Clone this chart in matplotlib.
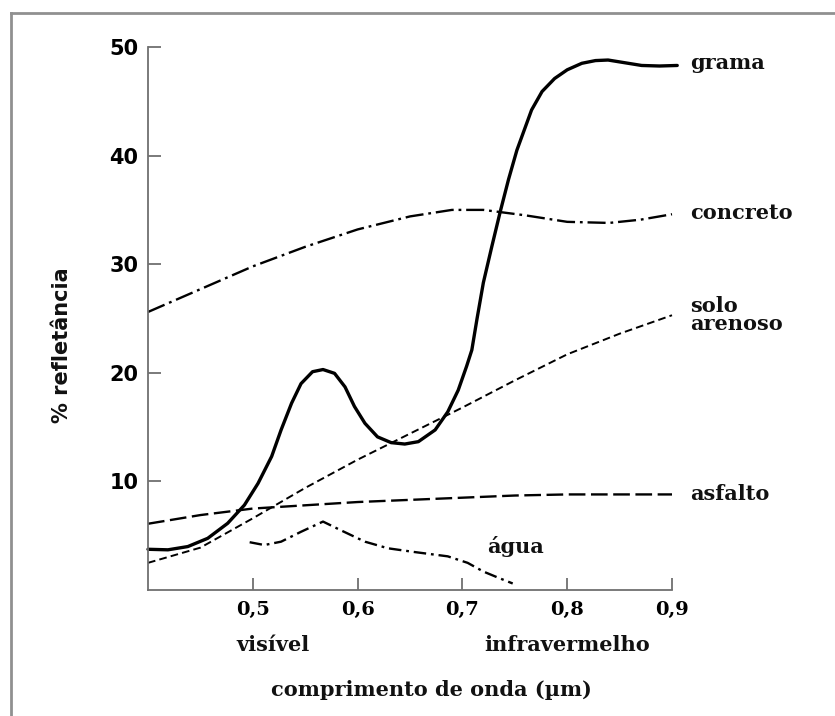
import matplotlib
matplotlib.use("Agg")
import matplotlib.pyplot as plt
from matplotlib.lines import Line2D

plt.rcParams['lines.scale_dashes'] = False

# ---- data ----
grama_x = [0.400, 0.419, 0.438, 0.457, 0.476, 0.492, 0.505, 0.518, 0.527, 0.537, 0.546,
           0.557, 0.567, 0.578, 0.588, 0.597, 0.607, 0.619, 0.632, 0.645, 0.658, 0.674,
           0.686, 0.696, 0.704, 0.709, 0.714, 0.720, 0.728, 0.736, 0.744, 0.752, 0.766,
           0.776, 0.788, 0.800, 0.814, 0.827, 0.839, 0.855, 0.871, 0.888, 0.905]
grama_y = [3.75, 3.7, 4.0, 4.76, 6.14, 7.82, 9.82, 12.3, 14.74, 17.2, 19.0,
           20.1, 20.3, 19.95, 18.7, 16.9, 15.35, 14.1, 13.57, 13.44, 13.66, 14.74,
           16.4, 18.4, 20.6, 22.1, 25.0, 28.3, 31.6, 34.8, 37.8, 40.5, 44.2,
           45.9, 47.1, 47.9, 48.5, 48.75, 48.8, 48.55, 48.3, 48.25, 48.3]

concreto_x = [0.40, 0.45, 0.50, 0.55, 0.60, 0.65, 0.69, 0.72, 0.76, 0.80, 0.84, 0.87, 0.90]
concreto_y = [25.6, 27.7, 29.8, 31.6, 33.2, 34.4, 35.0, 35.0, 34.5, 33.9, 33.8, 34.1, 34.6]

solo_x = [0.40, 0.45, 0.50, 0.55, 0.60, 0.65, 0.70, 0.75, 0.80, 0.85, 0.90]
solo_y = [2.5, 3.9, 6.6, 9.4, 12.0, 14.4, 16.8, 19.3, 21.7, 23.6, 25.3]

asfalto_x = [0.40, 0.45, 0.50, 0.55, 0.60, 0.65, 0.70, 0.75, 0.80, 0.85, 0.90]
asfalto_y = [6.1, 6.9, 7.5, 7.8, 8.1, 8.3, 8.5, 8.7, 8.8, 8.8, 8.8]

agua_x = [0.497, 0.511, 0.527, 0.546, 0.567, 0.584, 0.607, 0.629, 0.654, 0.686, 0.705,
          0.720, 0.735, 0.748]
agua_y = [4.4, 4.14, 4.45, 5.36, 6.3, 5.5, 4.45, 3.84, 3.5, 3.1, 2.5,
          1.7, 1.1, 0.6]

x_ticks = [0.5, 0.6, 0.7, 0.8, 0.9]
x_tick_labels = ["0,5", "0,6", "0,7", "0,8", "0,9"]
y_ticks = [10, 20, 30, 40, 50]
y_tick_labels = ["10", "20", "30", "40", "50"]

series_labels = ["grama", "concreto", "solo\narenoso", "asfalto", "água"]

# ---- figure ----
fig = plt.figure(figsize=(8.35, 7.16), dpi=100)
fig.patch.set_facecolor("white")
ax = fig.add_axes([148/835, 1-590/716, (672-148)/835, (590-47)/716])

common = dict(color="black", clip_on=False, solid_joinstyle="round",
              dash_joinstyle="round", dash_capstyle="butt")
ax.plot(grama_x, grama_y, lw=2.4, solid_capstyle="round", **common)
ax.plot(concreto_x, concreto_y, lw=1.7, dashes=(13, 3.5, 2, 3.5), **common)
ax.plot(solo_x, solo_y, lw=1.4, dashes=(5.5, 3), **common)
ax.plot(asfalto_x, asfalto_y, lw=1.7, dashes=(12, 4), **common)
ax.plot(agua_x, agua_y, lw=1.7, dashes=(9, 3.5, 2, 3.5), **common)

ax.set_xlim(0.4, 0.9)
ax.set_ylim(0, 50)
for s in ["top", "right"]:
    ax.spines[s].set_visible(False)
for s in ["left", "bottom"]:
    ax.spines[s].set_color("#707070")
    ax.spines[s].set_linewidth(1.3)

ax.set_xticks(x_ticks)
ax.set_xticklabels(x_tick_labels, fontfamily="DejaVu Serif", fontweight="bold", fontsize=14)
ax.set_yticks(y_ticks)
ax.set_yticklabels(y_tick_labels, fontfamily="DejaVu Sans", fontweight="bold", fontsize=15)
ax.tick_params(axis="both", direction="in", length=9, width=1.3, color="#707070")
ax.tick_params(axis="x", pad=8)
ax.tick_params(axis="y", pad=7)

serif = dict(fontfamily="DejaVu Serif", fontweight="bold", fontsize=15, color="#111111")
ax.text(0.917, 48.5, series_labels[0], va="center", ha="left", **serif)
ax.text(0.917, 34.7, series_labels[1], va="center", ha="left", **serif)
ax.text(0.917, 25.3, series_labels[2], va="center", ha="left", linespacing=0.85, **serif)
ax.text(0.917, 8.8, series_labels[3], va="center", ha="left", **serif)
ax.text(0.724, 4.0, series_labels[4], va="center", ha="left", **serif)

ax.text(0.519, -5.1, "visível", va="center", ha="center", **serif)
ax.text(0.80, -5.1, "infravermelho", va="center", ha="center", **serif)

fig.text(431/835, 1-690/716, "comprimento de onda (µm)", va="center", ha="center", **serif)
fig.text(62/835, 1-345/716, "% refletância", va="center", ha="center", rotation=90,
         fontfamily="DejaVu Sans", fontweight="bold", fontsize=15, color="#111111")

# frame lines (top and left)
fig.add_artist(Line2D([11/835, 11/835], [0, 1-13/716], transform=fig.transFigure,
                      color="#909090", lw=2))
fig.add_artist(Line2D([11/835, 1], [1-13/716, 1-13/716], transform=fig.transFigure,
                      color="#909090", lw=2))

fig.savefig("out.png", dpi=100, facecolor="white")
